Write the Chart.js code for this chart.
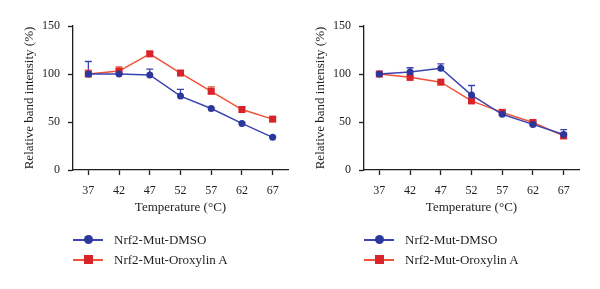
<!DOCTYPE html>
<html>
<head>
<meta charset="utf-8">
<script src="https://cdn.jsdelivr.net/npm/chart.js@4"></script>
<style>
  body { margin: 0; background: #fff; }
  #wrap { position: relative; width: 600px; height: 289px; font-family: "Liberation Serif", "DejaVu Serif", serif; }
  .panel { position: absolute; top: 0; width: 300px; height: 289px; }
  .legend { position: absolute; left: 73px; top: 230px; font-size: 13px; color: #1e1e1e; }
  .row { position: relative; height: 20px; line-height: 20px; padding-left: 41px; white-space: nowrap; }
  .row .ln { position: absolute; left: 0; top: 9px; width: 30px; height: 1.5px; }
  .row .mk { position: absolute; left: 11px; top: 5px; width: 9px; height: 9px; }
</style>
</head>
<body>
<div id="wrap">
  <div class="panel" style="left:0">
    <canvas id="c1" width="300" height="289"></canvas>
    <div class="legend">
      <div class="row"><span class="ln" style="background:#3b44b0"></span><span class="mk" style="background:#2b379b;border-radius:50%"></span>Nrf2-Mut-DMSO</div>
      <div class="row"><span class="ln" style="background:#ef5236"></span><span class="mk" style="background:#d9232a"></span>Nrf2-Mut-Oroxylin A</div>
    </div>
  </div>
  <div class="panel" style="left:291px">
    <canvas id="c2" width="300" height="289"></canvas>
    <div class="legend">
      <div class="row"><span class="ln" style="background:#3b44b0"></span><span class="mk" style="background:#2b379b;border-radius:50%"></span>Nrf2-Mut-DMSO</div>
      <div class="row"><span class="ln" style="background:#ef5236"></span><span class="mk" style="background:#d9232a"></span>Nrf2-Mut-Oroxylin A</div>
    </div>
  </div>
</div>
<script>
// temperatures (°C)
const temps = ['37', '42', '47', '52', '57', '62', '67'];
const yTicks = [0, 50, 100, 150];

// left panel
const dmsoLeft = [100, 100, 99, 77, 64, 48.5, 34];
const dmsoLeftErr = [13, 5, 6, 7, 1, 1, 1];
const oroLeft = [100, 103, 121, 101, 82, 63, 53];
const oroLeftErr = [4, 4.5, 2, 2, 4.5, 2, 1.5];

// right panel
const dmsoRight = [100, 102, 106, 78, 58, 47.5, 37];
const dmsoRightErr = [1, 4.5, 4.5, 10, 2, 2, 5];
const oroRight = [100, 96.5, 91.5, 72, 60, 49.5, 35.5];
const oroRightErr = [2, 1, 1, 1, 1.5, 1.5, 1];

const blueLine = '#3b44b0', blueDot = '#2b379b';
const redLine = '#ef5236', redDot = '#d9232a';
const fontFam = '"Liberation Serif", "DejaVu Serif", serif';
const ink = '#1e1e1e';

// upward error bars with caps
const errorBars = {
  id: 'errorBars',
  beforeDatasetsDraw(chart) {
    const ctx = chart.ctx;
    const y = chart.scales.y;
    chart.data.datasets.forEach((ds, i) => {
      const meta = chart.getDatasetMeta(i);
      ctx.save();
      ctx.strokeStyle = ds.borderColor;
      ctx.lineWidth = 1.3;
      meta.data.forEach((pt, j) => {
        const top = y.getPixelForValue(ds.data[j] + ds.err[j]);
        ctx.beginPath();
        ctx.moveTo(pt.x, pt.y);
        ctx.lineTo(pt.x, top);
        ctx.moveTo(pt.x - 3.5, top);
        ctx.lineTo(pt.x + 3.5, top);
        ctx.stroke();
      });
      ctx.restore();
    });
  }
};

const axisGrid = { display: true, drawOnChartArea: false, drawTicks: true, tickLength: 5, tickColor: ink, tickWidth: 1.3 };

function makeChart(id, dmso, dmsoErr, oro, oroErr) {
  return new Chart(document.getElementById(id), {
    type: 'line',
    data: {
      labels: temps,
      datasets: [{
        label: 'Nrf2-Mut-DMSO',
        data: dmso,
        err: dmsoErr,
        borderColor: blueLine,
        borderWidth: 1.5,
        pointStyle: 'circle',
        pointRadius: 3.5,
        pointBackgroundColor: blueDot,
        pointBorderColor: blueDot,
        pointBorderWidth: 0
      }, {
        label: 'Nrf2-Mut-Oroxylin A',
        data: oro,
        err: oroErr,
        borderColor: redLine,
        borderWidth: 1.5,
        pointStyle: 'rect',
        pointRadius: 5,
        pointBackgroundColor: redDot,
        pointBorderColor: redDot,
        pointBorderWidth: 0
      }]
    },
    options: {
      responsive: false,
      animation: false,
      layout: { padding: { top: 26, left: 22, right: 12, bottom: 69 } },
      plugins: { legend: { display: false }, tooltip: { enabled: false } },
      scales: {
        x: {
          type: 'category',
          offset: true,
          grid: Object.assign({ offset: false }, axisGrid),
          border: { color: ink, width: 1.3 },
          ticks: { color: ink, padding: 9, maxRotation: 0, font: { family: fontFam, size: 12 } },
          title: { display: true, text: 'Temperature (°C)', color: ink, padding: { top: 0, bottom: 5 }, font: { family: fontFam, size: 13 } },
          afterFit(s) { s.height = 50; }
        },
        y: {
          min: 0,
          max: 150,
          afterBuildTicks(s) { s.ticks = yTicks.map(v => ({ value: v })); },
          grid: axisGrid,
          border: { color: ink, width: 1.3 },
          ticks: { color: ink, padding: 8, font: { family: fontFam, size: 12 } },
          title: { display: true, text: 'Relative band intensity (%)', color: ink, padding: 0, font: { family: fontFam, size: 13 } },
          afterFit(s) { s.width = 51; }
        }
      }
    },
    plugins: [errorBars]
  });
}

makeChart('c1', dmsoLeft, dmsoLeftErr, oroLeft, oroLeftErr);
makeChart('c2', dmsoRight, dmsoRightErr, oroRight, oroRightErr);
</script>
</body>
</html>
